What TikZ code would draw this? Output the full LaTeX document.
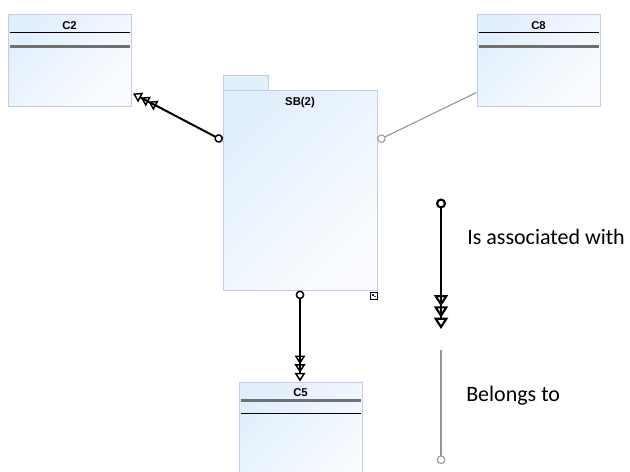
\documentclass[tikz,border=0pt]{standalone}
\usepackage{fontspec}
\setmainfont{Liberation Sans}
\newfontfamily\legendfont{Carlito}
\usetikzlibrary{arrows.meta,calc,shadings}
\definecolor{boxedge}{RGB}{196,204,232}
\definecolor{boxA}{RGB}{225,239,252}
\definecolor{boxB}{RGB}{250,252,255}
\definecolor{tabfill}{RGB}{226,240,252}
\definecolor{sepgray}{RGB}{112,112,112}
\definecolor{thingray}{RGB}{150,150,150}
\tikzset{
  classbox/.style={draw=boxedge, line width=0.75pt, top color=boxA, bottom color=boxB,
    shading angle=45, minimum width=92.25pt, minimum height=69pt, inner sep=0pt},
  boxtitle/.style={font=\bfseries\fontsize{8.5}{10}\selectfont, inner sep=0pt, anchor=base},
  sepblack/.style={black, line width=0.75pt},
  sepgrey/.style={sepgray, line width=1.6pt},
  assoc/.style={line width=1.5pt, arrows={{Circle[open,length=6.5pt,line width=1.1pt]}-{Triangle[open,length=6.5pt,width=8pt,line width=1.1pt] Triangle[open,length=6.5pt,width=8pt,line width=1.1pt] Triangle[open,length=6.5pt,width=8pt,line width=1.1pt]}}},
  bigassoc/.style={line width=2.2pt, arrows={{Circle[open,length=7.5pt,line width=1.6pt]}-{Triangle[open,length=8.5pt,width=10.5pt,line width=1.6pt] Triangle[open,length=8.5pt,width=10.5pt,line width=1.6pt] Triangle[open,length=8.5pt,width=10.5pt,line width=1.6pt]}}},
  belongs/.style={thingray, line width=0.8pt, arrows={{Circle[open,length=6.5pt]}-}},
  belongsrev/.style={thingray, line width=0.8pt, arrows={-{Circle[open,length=6.5pt]}}},
  legendtext/.style={font=\legendfont\fontsize{16.5}{20}\selectfont, inner sep=0pt, anchor=base west}
}
\begin{document}
\begin{tikzpicture}[x=0.75pt,y=-0.75pt]
\clip (0,0) rectangle (630,471);
\fill[white] (0,0) rectangle (630,471);

% class boxes
\node[classbox] (c2) at (69.5,60) {};
\node[classbox] (c8) at (538.5,60) {};
\node[classbox, minimum height=90pt] (c5) at (300.5,442) {};

% package SB(2)
\node[draw=boxedge, line width=0.75pt, fill=tabfill, minimum width=33.75pt, minimum height=11.25pt, inner sep=0pt] (tab) at (245.5,82.5) {};
\node[classbox, minimum width=115.5pt, minimum height=150pt] (sb) at (300,190) {};

% titles
\node[boxtitle] (t2) at (69.5,29) {C2};
\node[boxtitle] (t8) at (538.5,29) {C8};
\node[boxtitle] (tsb) at (300,105) {SB(2)};
\node[boxtitle] (t5) at (300.5,396) {C5};

% separators
\draw[sepblack] ($(c2.north west)+(2,19)$) -- ($(c2.north east)+(-2,19)$);
\draw[sepgrey] ($(c2.north west)+(2,33)$) -- ($(c2.north east)+(-2,33)$);
\draw[sepblack] ($(c8.north west)+(2,19)$) -- ($(c8.north east)+(-2,19)$);
\draw[sepgrey] ($(c8.north west)+(2,33)$) -- ($(c8.north east)+(-2,33)$);
\draw[sepgrey] ($(c5.north west)+(2,19)$) -- ($(c5.north east)+(-2,19)$);
\draw[sepblack] ($(c5.north west)+(2,32)$) -- ($(c5.north east)+(-2,32)$);

% small icon
\node[draw, line width=0.5pt, fill=white, minimum size=4.8pt, inner sep=0pt] (icon) at (374,296) {};
\fill[blue] ($(icon.center)+(-2,-1.6)$) rectangle ++(2,1.6);
\fill[red] (icon.center) rectangle ++(2.2,1.4);

% connector anchors
\coordinate (sbL) at ($(sb.north west)+(0,51)$);
\coordinate (sbR) at ($(sb.north east)+(0,51)$);
\coordinate (c2end) at ($(c2.south east)+(1.5,-13)$);
\coordinate (c8end) at ($(c8.south west)+(0,-14)$);

\draw[assoc] (sbL) -- (c2end);
\draw[belongs] (sbR) -- (c8end);
\draw[assoc] (sb.south) -- (sb.south |- c5.north);

% legend
\coordinate (l1a) at (441,198.5);
\coordinate (l1b) at (441,329);
\coordinate (l2a) at (441,350);
\coordinate (l2b) at (441,464);
\draw[bigassoc] (l1a) -- (l1b);
\draw[belongsrev] (l2a) -- (l2b);
\node[legendtext] (lt1) at (467,244) {Is associated with};
\node[legendtext] (lt2) at (466,401) {Belongs to};
\end{tikzpicture}
\end{document}
